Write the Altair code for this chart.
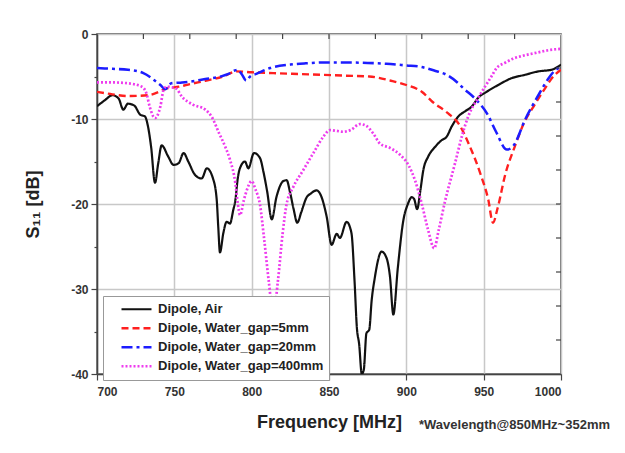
import altair as alt
import pandas as pd

series_names = ["Dipole, Air", "Dipole, Water_gap=5mm", "Dipole, Water_gap=20mm", "Dipole, Water_gap=400mm"]
series_colors = ["#111111", "#ff1f1f", "#1c1cff", "#ee3cee"]
series_dashes = [[1, 0], [7, 4], [11, 4, 3, 4], [2, 2]]
series_widths = [2.2, 2.7, 2.7, 2.7]

air_f = [700, 705, 710, 714, 717, 720, 724, 728, 731, 733, 735, 737.5, 739.6, 741.8, 746, 749.5,
         752.8, 756, 759, 763.5, 767.7, 771, 775, 777.4, 778.4, 779.5, 781.7, 783.8, 786, 788.1,
         789.5, 791, 792.4, 795.7, 797.8, 801.5, 805.4, 807.6, 810, 813, 816, 820.5, 822.6, 824.8,
         827, 829.5, 832, 835.6, 838, 842, 845, 848.5, 851.7, 855, 857, 861.4, 864.5, 866.5, 868,
         869.5, 871.2, 872.5, 874.2, 876, 877.6, 879.5, 884, 887.3, 889.4, 891.6, 894.5, 898, 901,
         903.5, 905, 907, 909, 911, 914.2, 918.5, 922.8, 926, 929.3, 933.6, 937.9, 942.2, 946.5,
         951.9, 959.4, 968, 976.7, 985.3, 994, 1000]
air_db = [-8.5, -7.8, -7.2, -7.6, -8.9, -8.2, -8.4, -9.5, -9.7, -10.9, -13.3, -17.5, -15.2, -13.1,
          -14.4, -15.4, -15.2, -14.0, -15.0, -16.6, -17.0, -15.8, -17.0, -19.5, -22.7, -25.7, -23.4,
          -22.1, -22.3, -20.7, -19.5, -17.0, -15.8, -15.0, -15.8, -14.0, -14.6, -16.2, -18.5, -21.8,
          -19.2, -17.3, -17.2, -18.6, -20.5, -22.2, -21.0, -19.2, -18.8, -18.4, -19.1, -21.5, -24.8,
          -23.5, -24.0, -22.1, -23.4, -29.0, -34.5, -36.5, -40.0, -39.5, -35.2, -34.8, -31.3, -28.8,
          -25.6, -26.4, -28.5, -33.0, -27.5, -22.0, -20.0, -19.2, -19.4, -20.6, -18.5, -16.0, -14.4,
          -13.3, -12.5, -12.1, -10.9, -9.7, -9.1, -8.55, -7.5, -6.8, -6.0, -5.2, -4.8, -4.4, -4.2, -3.6]

gap5_f = [700, 710, 720, 733, 740, 745, 753, 760, 770, 781.7, 790, 800, 814, 830, 846, 860, 876,
          890, 900, 910, 917, 926, 934, 941, 948, 953, 956, 959, 964, 970, 976, 983, 990, 995, 1000]
gap5_db = [-6.8, -7.1, -7.3, -7.2, -6.8, -6.4, -6.2, -5.9, -5.5, -5.0, -4.4, -4.5, -4.6, -4.7, -4.8,
           -4.9, -5.0, -5.5, -6.0, -6.8, -8.0, -9.2, -10.6, -13.2, -16.5, -19.5, -22.2, -20.5,
           -16.5, -13.3, -10.5, -8.3, -6.3, -5.0, -4.2]

gap20_f = [700, 710, 720, 730, 737.5, 741, 744, 748, 755, 760, 770, 780, 785, 789, 791, 793.5,
           796.5, 799, 803, 812, 825, 835, 846, 860, 875, 887, 900, 909, 918, 926, 933, 937, 945.5,
           952, 958, 965, 969, 977, 986, 992, 996, 1000]
gap20_db = [-4.0, -4.1, -4.2, -4.6, -5.5, -6.0, -6.5, -5.8, -5.7, -5.6, -5.3, -5.0, -4.7, -4.3, -4.2,
            -4.7, -5.5, -5.0, -4.7, -4.0, -3.6, -3.45, -3.35, -3.35, -3.4, -3.5, -3.7, -3.85, -4.3,
            -4.8, -5.7, -6.4, -7.8, -9.3, -11.5, -13.6, -13.2, -10.0, -7.0, -5.2, -4.3, -3.9]

gap400_f = [700, 710, 720, 729, 732, 734, 737.5, 741, 743, 745, 751, 755, 762, 770, 774, 779, 783,
            786, 789.5, 791, 792.5, 795, 797, 800, 802.5, 805.4, 808, 811, 814, 817, 820, 822.6,
            826.9, 833.4, 839.9, 846.3, 850.6, 855, 859.2, 864, 870, 874, 878.6, 883, 889.4, 895.9,
            901.3, 905.6, 910, 914, 918, 921, 925, 931.5, 935.8, 940, 946.5, 955, 958.4, 963.7,
            969, 974.5, 984.3, 992, 1000]
gap400_db = [-5.7, -5.7, -5.8, -6.2, -7.0, -8.5, -9.9, -8.5, -6.6, -6.2, -6.4, -7.4, -8.3, -8.9,
             -9.7, -11.7, -13.3, -14.8, -17.6, -19.9, -21.3, -19.5, -18.3, -17.3, -18.3, -20.1,
             -24.0, -29.0, -33.0, -29.0, -23.5, -20.0, -18.0, -16.0, -14.0, -12.1, -11.3, -11.4,
             -11.5, -11.3, -10.6, -10.8, -11.7, -12.9, -13.4, -14.2, -15.4, -17.2, -20.0, -23.0,
             -25.2, -23.0, -19.7, -15.2, -12.1, -9.7, -7.5, -5.0, -4.0, -3.4, -2.9, -2.6, -2.2,
             -1.9, -1.75]

x_tick_values = [700, 725, 750, 775, 800, 825, 850, 875, 900, 925, 950, 975, 1000]
y_tick_values = [0, -5, -10, -15, -20, -25, -30, -35, -40]
top_tick_values = [730, 760, 790, 820, 850, 880, 910, 940, 970]
right_tick_values = [-4, -8, -12, -16, -20, -24, -28, -32, -36]
note_text = ["*Wavelength@850MHz~352mm"]

rows = []
for name, fs, ds in zip(series_names, [air_f, gap5_f, gap20_f, gap400_f],
                        [air_db, gap5_db, gap20_db, gap400_db]):
    for f, d in zip(fs, ds):
        rows.append({"series": name, "freq": f, "s11": d})
df = pd.DataFrame(rows)

x_scale = alt.Scale(domain=[700, 1000], nice=False, zero=False)
y_scale = alt.Scale(domain=[-40, 0], nice=False, zero=False)

legend = alt.Legend(
    title=None, orient="none", legendX=6, legendY=262,
    symbolType="stroke", symbolSize=900, symbolStrokeWidth=2.6,
    clipHeight=16.5, padding=5, symbolOffset=12, labelOffset=5,
    labelFontSize=13, labelFontWeight="bold", labelColor="#222",
    labelLimit=400, strokeColor="#999999", fillColor="white",
)

lines = alt.Chart(df).mark_line(clip=True, interpolate="monotone").encode(
    x=alt.X("freq:Q", scale=x_scale, axis=alt.Axis(
        values=x_tick_values, title="Frequency [MHz]", format="d",
        labelExpr="datum.value % 50 === 0 ? datum.label : ''",
        gridOpacity={"condition": {"test": "datum.value % 50 === 0", "value": 1}, "value": 0},
        tickSize={"condition": {"test": "datum.value % 50 === 0", "value": 6}, "value": 3},
        titlePadding=16, labelPadding=6,
    )),
    y=alt.Y("s11:Q", scale=y_scale, axis=alt.Axis(
        values=y_tick_values, title="S₁₁ [dB]",
        labelExpr="datum.value % 10 === 0 ? replace(datum.label, '−', '-') : ''",
        gridOpacity={"condition": {"test": "datum.value % 10 === 0", "value": 1}, "value": 0},
        tickSize={"condition": {"test": "datum.value % 10 === 0", "value": 6}, "value": 3},
        titlePadding=28, labelPadding=3,
    )),
    color=alt.Color("series:N", scale=alt.Scale(domain=series_names, range=series_colors), legend=legend),
    strokeDash=alt.StrokeDash("series:N", scale=alt.Scale(domain=series_names, range=series_dashes), legend=legend),
    strokeWidth=alt.StrokeWidth("series:N", scale=alt.Scale(domain=series_names, range=series_widths), legend=None),
)

top_ticks = alt.Chart(pd.DataFrame({"freq": top_tick_values})).mark_rule(
    color="#444444", strokeWidth=1.2
).encode(x=alt.X("freq:Q", scale=x_scale), y=alt.value(0), y2=alt.value(5))

right_ticks = alt.Chart(pd.DataFrame({"v": right_tick_values})).mark_rule(
    color="#444444", strokeWidth=1.2
).encode(y=alt.Y("v:Q", scale=y_scale), x=alt.value(459), x2=alt.value(464))

note = alt.Chart(pd.DataFrame({"t": note_text})).mark_text(
    align="left", baseline="middle", fontSize=13, fontWeight="bold", color="#333333"
).encode(text="t:N", x=alt.value(322), y=alt.value(391))

chart = alt.layer(lines, top_ticks, right_ticks, note).properties(
    width=464, height=340,
    autosize=alt.AutoSizeParams(type="none"),
    padding={"left": 89, "top": 26, "right": 56, "bottom": 60},
).configure(
    font="Liberation Sans"
).configure_view(
    stroke="#444444", strokeWidth=1.5
).configure_axis(
    labelFontSize=12, labelFontWeight="bold", labelColor="#333333",
    titleFontSize=18, titleFontWeight="bold", titleColor="#222222",
    domainColor="#444444", domainWidth=1.5, tickColor="#444444", tickWidth=1.2,
    gridColor="#c8c8c8", gridWidth=1.5,
)

chart.save("out.html", embed_options={"renderer": "svg", "actions": False})
